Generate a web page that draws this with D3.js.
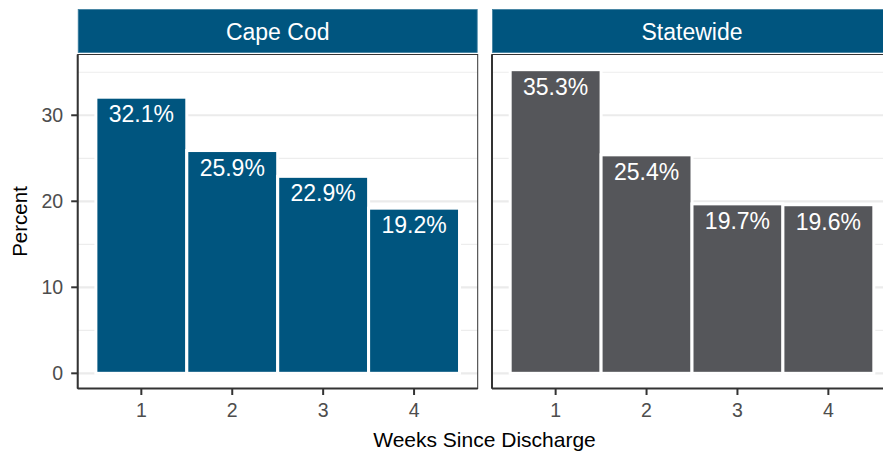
<!DOCTYPE html>
<html>
<head>
<meta charset="utf-8">
<script src="https://cdn.jsdelivr.net/npm/d3@7"></script>
<style>
  body { margin: 0; background: #fff; }
  svg { display: block; font-family: "Liberation Sans", Arial, sans-serif; }
</style>
</head>
<body>
<svg id="chart" width="883" height="451"></svg>
<script>
// data
var panels = ["Cape Cod", "Statewide"];
var weeks = [1, 2, 3, 4];
var capeCod = [32.1, 25.9, 22.9, 19.2];
var statewide = [35.3, 25.4, 19.7, 19.6];
var yTicks = [0, 10, 20, 30];
var yMinor = [5, 15, 25, 35];
var panelColors = ["#00557f", "#55565a"];

var series = [capeCod, statewide];

var svg = d3.select("#chart");
var panelW = 400, panelTop = 54.5, panelBottom = 388.5;
var panelLefts = [77.7, 492];

var y = d3.scaleLinear().domain([-1.765, 37.065]).range([panelBottom, panelTop]);

panels.forEach(function(name, i) {
    var x0 = panelLefts[i];
    var x = d3.scaleLinear().domain([0.3, 4.7]).range([x0, x0 + panelW]);
    var g = svg.append("g");

    // strip
    g.append("rect")
        .attr("x", x0 + 0.5).attr("y", 9.5)
        .attr("width", panelW - 1).attr("height", 43)
        .attr("fill", "#00557f")
        .attr("stroke", "#3d7fa0").attr("stroke-width", 0.8);
    g.append("text")
        .attr("x", x0 + panelW / 2).attr("y", 39.5)
        .attr("text-anchor", "middle")
        .attr("fill", "#fff")
        .attr("font-size", 23)
        .text(name);

    // grid
    g.selectAll(".minor").data(yMinor).enter().append("line")
        .attr("x1", x0).attr("x2", x0 + panelW)
        .attr("y1", function(d) { return y(d); }).attr("y2", function(d) { return y(d); })
        .attr("stroke", "#ededed").attr("stroke-width", 1.2);
    g.selectAll(".major").data(yTicks).enter().append("line")
        .attr("x1", x0).attr("x2", x0 + panelW)
        .attr("y1", function(d) { return y(d); }).attr("y2", function(d) { return y(d); })
        .attr("stroke", "#ebebeb").attr("stroke-width", 2.2);

    // bars
    var vals = series[i];
    g.selectAll(".bar").data(weeks).enter().append("rect")
        .attr("x", function(d) { return x(d - 0.5); })
        .attr("width", x(1.5) - x(0.5))
        .attr("y", function(d, j) { return y(vals[j]); })
        .attr("height", function(d, j) { return y(0) - y(vals[j]); })
        .attr("fill", panelColors[i])
        .attr("stroke", "#fff").attr("stroke-width", 3);

    g.selectAll(".lab").data(weeks).enter().append("text")
        .attr("x", function(d) { return x(d); })
        .attr("y", function(d, j) { return y(vals[j]) + 25; })
        .attr("text-anchor", "middle")
        .attr("fill", "#fff")
        .attr("font-size", 23)
        .text(function(d, j) { return vals[j].toFixed(1) + "%"; });

    // panel border
    g.append("rect")
        .attr("x", x0).attr("y", panelTop)
        .attr("width", panelW).attr("height", panelBottom - panelTop)
        .attr("fill", "none").attr("stroke", "#333").attr("stroke-width", 1);

    // axis lines
    g.append("line").attr("x1", x0).attr("x2", x0).attr("y1", panelTop).attr("y2", panelBottom)
        .attr("stroke", "#333").attr("stroke-width", 2);
    g.append("line").attr("x1", x0).attr("x2", x0 + panelW).attr("y1", panelBottom).attr("y2", panelBottom)
        .attr("stroke", "#333").attr("stroke-width", 2);

    // x ticks
    g.selectAll(".xt").data(weeks).enter().append("line")
        .attr("x1", function(d) { return x(d); }).attr("x2", function(d) { return x(d); })
        .attr("y1", panelBottom).attr("y2", panelBottom + 6.5)
        .attr("stroke", "#333").attr("stroke-width", 2);
    g.selectAll(".xl").data(weeks).enter().append("text")
        .attr("x", function(d) { return x(d); })
        .attr("y", panelBottom + 28.5)
        .attr("text-anchor", "middle")
        .attr("fill", "#4d4d4d")
        .attr("font-size", 19.5)
        .text(function(d) { return d; });
});

// y axis (left panel only)
var x0 = panelLefts[0];
svg.selectAll(".yt").data(yTicks).enter().append("line")
    .attr("x1", x0 - 6.5).attr("x2", x0)
    .attr("y1", function(d) { return y(d); }).attr("y2", function(d) { return y(d); })
    .attr("stroke", "#333").attr("stroke-width", 2);
svg.selectAll(".yl").data(yTicks).enter().append("text")
    .attr("x", x0 - 14.5)
    .attr("y", function(d) { return y(d) + 7; })
    .attr("text-anchor", "end")
    .attr("fill", "#4d4d4d")
    .attr("font-size", 19.5)
    .text(function(d) { return d; });

// axis titles
svg.append("text")
    .attr("x", 484.5).attr("y", 447)
    .attr("text-anchor", "middle")
    .attr("font-size", 21)
    .text("Weeks Since Discharge");
svg.append("text")
    .attr("transform", "translate(26.5," + ((panelTop + panelBottom) / 2) + ") rotate(-90)")
    .attr("text-anchor", "middle")
    .attr("font-size", 20.5)
    .text("Percent");
</script>
</body>
</html>
